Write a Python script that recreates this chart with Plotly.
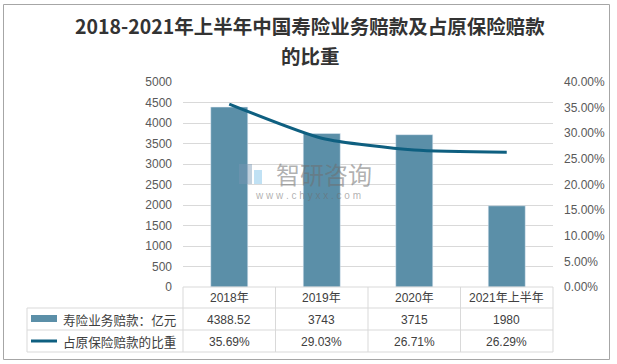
import plotly.graph_objects as go

categories = ["2018年", "2019年", "2020年", "2021年上半年"]
claims = [4388.52, 3743, 3715, 1980]          # 寿险业务赔款：亿元
share_pct = [35.69, 29.03, 26.71, 26.29]       # 占原保险赔款的比重 (%)
series_names = ["寿险业务赔款：亿元", "占原保险赔款的比重"]
title_lines = ["2018-2021年上半年中国寿险业务赔款及占原保险赔款", "的比重"]

W, H = 617, 364
L, R, T, B = 183, 553, 82, 287
BAR_C = "#5b8fa8"
LINE_C = "#0e5f80"
GRID_C = "#d9d9d9"
TXT_C = "#404040"
FONT = "Liberation Sans, Noto Sans CJK SC, sans-serif"
CJK = "Noto Sans CJK SC, sans-serif"


def px(x):
    return (x - L) / (R - L)


def py(y):
    return (B - y) / (B - T)


fig = go.Figure()
fig.add_trace(go.Bar(x=categories, y=claims, name=series_names[0], marker_color=BAR_C,
                     width=0.4, yaxis="y"))
fig.add_trace(go.Scatter(x=categories, y=share_pct, name=series_names[1], mode="lines",
                         line=dict(color=LINE_C, width=3, shape="spline", smoothing=0.6),
                         yaxis="y2"))

shapes = []
annotations = []

# outer border
shapes.append(dict(type="rect", xref="paper", yref="paper", x0=px(3.5), x1=px(609.5), y0=py(4.5), y1=py(359.5),
                   line=dict(color="#a6a6a6", width=1), layer="below"))

# table lines
row_y = [B, 308, 330, 352]
col_x = [L + i * (R - L) / 4 for i in range(5)]
tbl_left = 27
for i, yy in enumerate(row_y):
    x0 = L if i == 0 else tbl_left
    shapes.append(dict(type="line", xref="paper", yref="paper", x0=px(x0), x1=px(R), y0=py(yy), y1=py(yy),
                       line=dict(color=GRID_C, width=1)))
for xx in col_x:
    shapes.append(dict(type="line", xref="paper", yref="paper", x0=px(xx), x1=px(xx), y0=py(B), y1=py(352),
                       line=dict(color=GRID_C, width=1)))
shapes.append(dict(type="line", xref="paper", yref="paper", x0=px(tbl_left), x1=px(tbl_left), y0=py(308), y1=py(352),
                   line=dict(color=GRID_C, width=1)))

# legend keys in table
shapes.append(dict(type="rect", xref="paper", yref="paper", x0=px(31), x1=px(57), y0=py(322), y1=py(315),
                   fillcolor=BAR_C, line=dict(width=0)))
shapes.append(dict(type="line", xref="paper", yref="paper", x0=px(31), x1=px(57), y0=py(341), y1=py(341),
                   line=dict(color=LINE_C, width=3)))
annotations.append(dict(xref="paper", yref="paper", x=px(61), y=py(319), text=series_names[0], showarrow=False,
                        xanchor="left", yanchor="middle", font=dict(family=CJK, size=12.6, color=TXT_C)))
annotations.append(dict(xref="paper", yref="paper", x=px(61), y=py(341), text=series_names[1], showarrow=False,
                        xanchor="left", yanchor="middle", font=dict(family=CJK, size=12.6, color=TXT_C)))

# table cells
for i, c in enumerate(categories):
    annotations.append(dict(xref="x", yref="paper", x=c, y=py(298), text=c, showarrow=False,
                            yanchor="middle", font=dict(family=FONT, size=12, color=TXT_C)))
    annotations.append(dict(xref="x", yref="paper", x=c, y=py(319.5), text=f"{claims[i]:g}", showarrow=False,
                            yanchor="middle", font=dict(family=FONT, size=12, color=TXT_C)))
    annotations.append(dict(xref="x", yref="paper", x=c, y=py(341.5), text=f"{share_pct[i]:.2f}%", showarrow=False,
                            yanchor="middle", font=dict(family=FONT, size=12, color=TXT_C)))

# title (two lines)
for yy, line in zip([26, 55.5], title_lines):
    annotations.append(dict(xref="paper", yref="paper", x=px(310), y=py(yy), text=f"<b>{line}</b>",
                            showarrow=False, yanchor="middle",
                            font=dict(family=CJK, size=19.5, color="#333333")))

# watermark
shapes.append(dict(type="rect", xref="paper", yref="paper", x0=px(239), x1=px(252), y0=py(184), y1=py(164),
                   fillcolor="rgba(120,150,180,0.45)", line=dict(width=0)))
shapes.append(dict(type="rect", xref="paper", yref="paper", x0=px(254), x1=px(262), y0=py(184), y1=py(170),
                   fillcolor="rgba(140,200,235,0.55)", line=dict(width=0)))
annotations.append(dict(xref="paper", yref="paper", x=px(324), y=py(173), text="智研咨询", showarrow=False,
                        yanchor="middle", font=dict(family=CJK, size=24, color="rgba(110,110,110,0.55)")))
annotations.append(dict(xref="paper", yref="paper", x=px(308), y=py(195), text="w w w . c h y x x . c o m",
                        showarrow=False, yanchor="middle", font=dict(family=FONT, size=10, color="rgba(110,110,110,0.55)")))

fig.update_layout(
    width=W, height=H,
    margin=dict(l=L, r=W - R, t=T, b=H - B),
    paper_bgcolor="white", plot_bgcolor="white",
    showlegend=False,
    bargap=0.6,
    xaxis=dict(showticklabels=False, showline=False, showgrid=False, ticks="", zeroline=False),
    yaxis=dict(range=[0, 5000], dtick=500, showgrid=True, gridcolor=GRID_C, gridwidth=1, zeroline=False,
               showline=False, ticks="", ticklabelstandoff=10,
               tickfont=dict(family=FONT, size=12, color="#595959")),
    yaxis2=dict(range=[0, 40], dtick=5, overlaying="y", side="right", showgrid=False, zeroline=False,
                showline=False, ticks="", tickformat=".2f", ticksuffix="%", ticklabelstandoff=10,
                tickfont=dict(family=FONT, size=12, color="#595959")),
    shapes=shapes,
    annotations=annotations,
)

fig.write_html("out.html", config={"displayModeBar": False},
               post_script="document.body.style.margin='0';document.body.style.overflow='hidden';")
